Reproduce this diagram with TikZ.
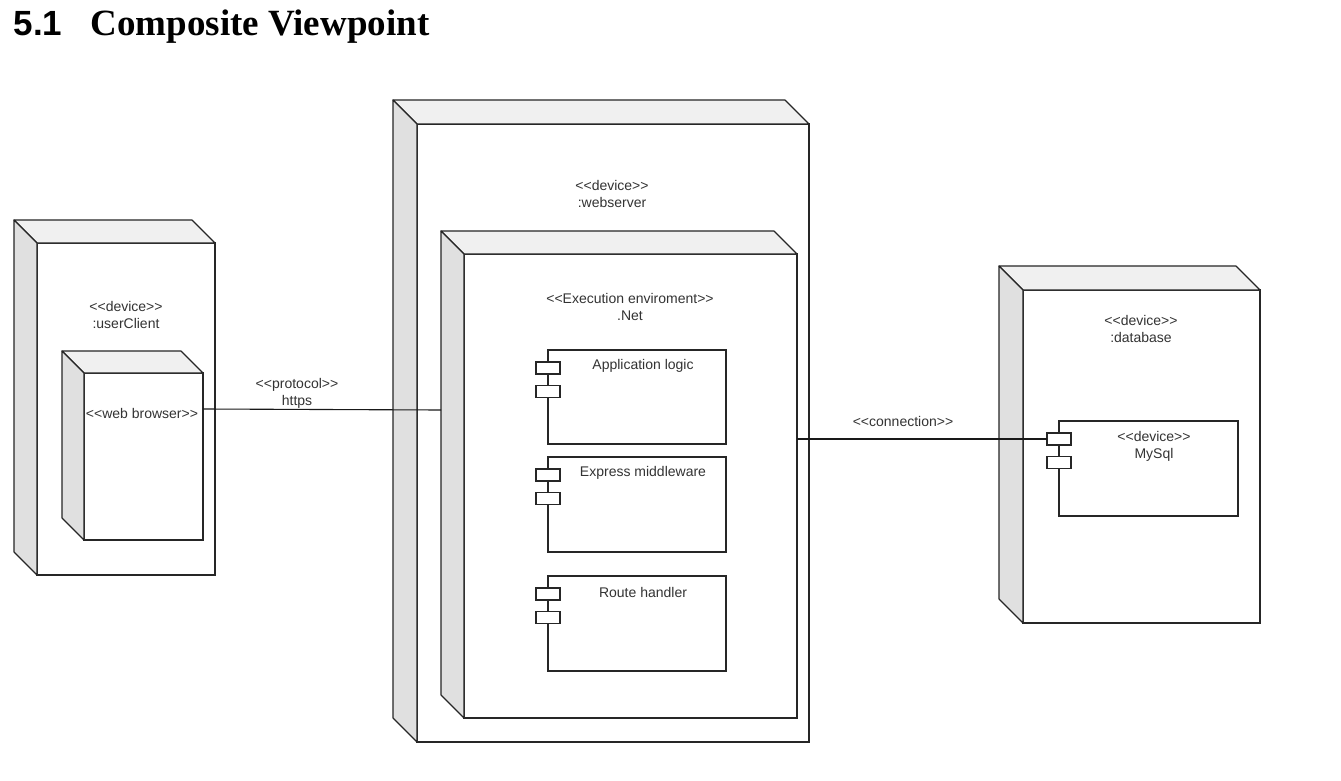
\documentclass[tikz,border=0pt]{standalone}
\usepackage{fontspec}
\setmainfont{Liberation Sans}[Ligatures=TeXOff]
\newfontfamily\titleserif{Liberation Serif}
\usetikzlibrary{calc}
\tikzset{
  front/.style={draw=black!85, fill=white, anchor=north west, inner sep=0pt, outer sep=0pt},
  topface/.style={draw=black!85, fill=black!6, line join=round},
  sideface/.style={draw=black!85, fill=black!12, line join=round},
  port/.style={draw=black!85, fill=white, minimum width=24pt, minimum height=12pt, inner sep=0pt, outer sep=0pt},
  lbl/.style={font=\fontsize{14}{17}\selectfont, text=black!80, align=center, inner sep=0pt},
  wire/.style={draw=black!90, line width=1.1pt},
}
\newcommand{\threeD}[2]{%
  \filldraw[topface] (#1.north west) -- ++(-#2,-#2) -- ([shift={(-#2,-#2)}]#1.north east) -- (#1.north east) -- cycle;
  \filldraw[sideface] (#1.north west) -- ++(-#2,-#2) -- ([shift={(-#2,-#2)}]#1.south west) -- (#1.south west) -- cycle;
}
\newcommand{\ports}[1]{%
  \node[port] (#1-p1) at ([shift={(0,18)}]#1.north west) {};
  \node[port] (#1-p2) at ([shift={(0,41.5)}]#1.north west) {};
}
\newcommand{\lt}{\symbol{60}}
\newcommand{\gt}{\symbol{62}}
\begin{document}
\begin{tikzpicture}[x=1pt,y=-1pt,line width=1.1pt]
\useasboundingbox[fill=white] (0,0) rectangle (1341,781);

% title
\node[anchor=base west, inner sep=0pt, font=\fontsize{35}{40}\selectfont\bfseries] (tnum) at (13,36) {5.1};
\node[anchor=base west, inner sep=0pt, font=\titleserif\fontsize{37}{40}\selectfont\bfseries] (ttext) at (90,36) {Composite Viewpoint};

% userClient
\node[front, minimum width=178pt, minimum height=332pt] (uc) at (37,243) {};
\threeD{uc}{23}
\node[lbl] (uclbl) at (126,315) {\lt\lt device\gt\gt\\:userClient};
\node[front, minimum width=119pt, minimum height=167pt] (br) at (84,373) {};
\threeD{br}{22}
\node[lbl] (brlbl) at (142,413) {\lt\lt web browser\gt\gt};

% webserver
\node[front, minimum width=392pt, minimum height=618pt] (ws) at (417,124) {};
\threeD{ws}{24}
\node[lbl] (wslbl) at (612,194) {\lt\lt device\gt\gt\\:webserver};

% execution environment
\node[front, minimum width=333pt, minimum height=464pt] (ex) at (464,254) {};
\threeD{ex}{23}
\node[lbl] (exlbl) at (630,306.5) {\lt\lt Execution enviroment\gt\gt\\.Net};

% components
\node[front, minimum width=178pt, minimum height=94pt] (al) at (548,350) {};
\ports{al}
\node[lbl] (allbl) at ([shift={(6,16)}]al.north) {Application logic};
\node[front, minimum width=178pt, minimum height=95pt] (em) at (548,457) {};
\ports{em}
\node[lbl] (emlbl) at ([shift={(6,16)}]em.north) {Express middleware};
\node[front, minimum width=178pt, minimum height=95pt] (rh) at (548,576) {};
\ports{rh}
\node[lbl] (rhlbl) at ([shift={(6,16)}]rh.north) {Route handler};

% database
\node[front, minimum width=237pt, minimum height=333pt] (db) at (1023,290) {};
\threeD{db}{24}
\node[lbl] (dblbl) at (1141,329) {\lt\lt device\gt\gt\\:database};
\node[front, minimum width=179pt, minimum height=95pt] (ms) at (1059,421) {};
\ports{ms}
\node[lbl] (mslbl) at (1154,446) {\lt\lt device\gt\gt\\MySql};

% connectors
\draw[wire] ([shift={(0,36)}]br.north east) -- ([shift={(-23,156)}]ex.north west);
\node[lbl] (httpslbl) at (297,393) {\lt\lt protocol\gt\gt\\https};
\draw[wire] ([shift={(0,185)}]ex.north east) -- (ms-p1.west);
\node[lbl] (connlbl) at (903,421) {\lt\lt connection\gt\gt};
\end{tikzpicture}
\end{document}
